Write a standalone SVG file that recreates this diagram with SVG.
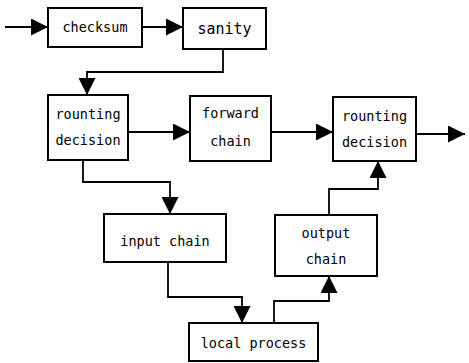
<svg xmlns="http://www.w3.org/2000/svg" width="469" height="363" viewBox="0 0 469 363">
<style>
.box{fill:#fff;stroke:#000;stroke-width:2}
.t{font-family:"DejaVu Sans Mono","Liberation Mono",monospace;font-size:13.5px;fill:#000;text-anchor:middle}
.c{fill:none;stroke:#000;stroke-width:1.8;marker-end:url(#ah)}
</style>
<defs>
<marker id="ah" markerUnits="userSpaceOnUse" markerWidth="17" markerHeight="17" refX="17" refY="8.5" orient="auto" viewBox="0 0 17 17">
<path d="M0,0 L17,8.5 L0,17 z" fill="#000"/>
</marker>
</defs>
<rect width="469" height="363" fill="#fff"/>
<g id="connectors">
<path class="c" d="M5,27 H48"/>
<path class="c" d="M142,27 H183"/>
<path class="c" d="M223,49 V72 H87 V95"/>
<path class="c" d="M128,132 H190"/>
<path class="c" d="M271,132 H333"/>
<path class="c" d="M416,134 H465"/>
<path class="c" d="M83,160 V182 H170 V214"/>
<path class="c" d="M168,262 V297 H242 V323"/>
<path class="c" d="M274,323 V301 H329 V276"/>
<path class="c" d="M329,215 V189 H378 V161"/>
</g>
<g id="checksum"><rect class="box" x="48" y="8" width="94" height="39"/><text class="t" x="95" y="32">checksum</text></g>
<g id="sanity"><rect class="box" x="183" y="8" width="83" height="41"/><text class="t" x="224.5" y="34" style="font-size:15px">sanity</text></g>
<g id="routing1"><rect class="box" x="48" y="95" width="80" height="65"/><text class="t" x="88" y="119">rounting</text><text class="t" x="88" y="145">decision</text></g>
<g id="forward"><rect class="box" x="190" y="96" width="81" height="65"/><text class="t" x="230.5" y="118">forward</text><text class="t" x="230.5" y="146">chain</text></g>
<g id="routing2"><rect class="box" x="333" y="97" width="83" height="64"/><text class="t" x="374.5" y="121">rounting</text><text class="t" x="374.5" y="147">decision</text></g>
<g id="input"><rect class="box" x="104" y="214" width="122" height="48"/><text class="t" x="165" y="246">input chain</text></g>
<g id="output"><rect class="box" x="275" y="215" width="102" height="61"/><text class="t" x="326" y="238">output</text><text class="t" x="326" y="264">chain</text></g>
<g id="local"><rect class="box" x="189" y="323" width="129" height="38"/><text class="t" x="253.5" y="348">local process</text></g>
</svg>
